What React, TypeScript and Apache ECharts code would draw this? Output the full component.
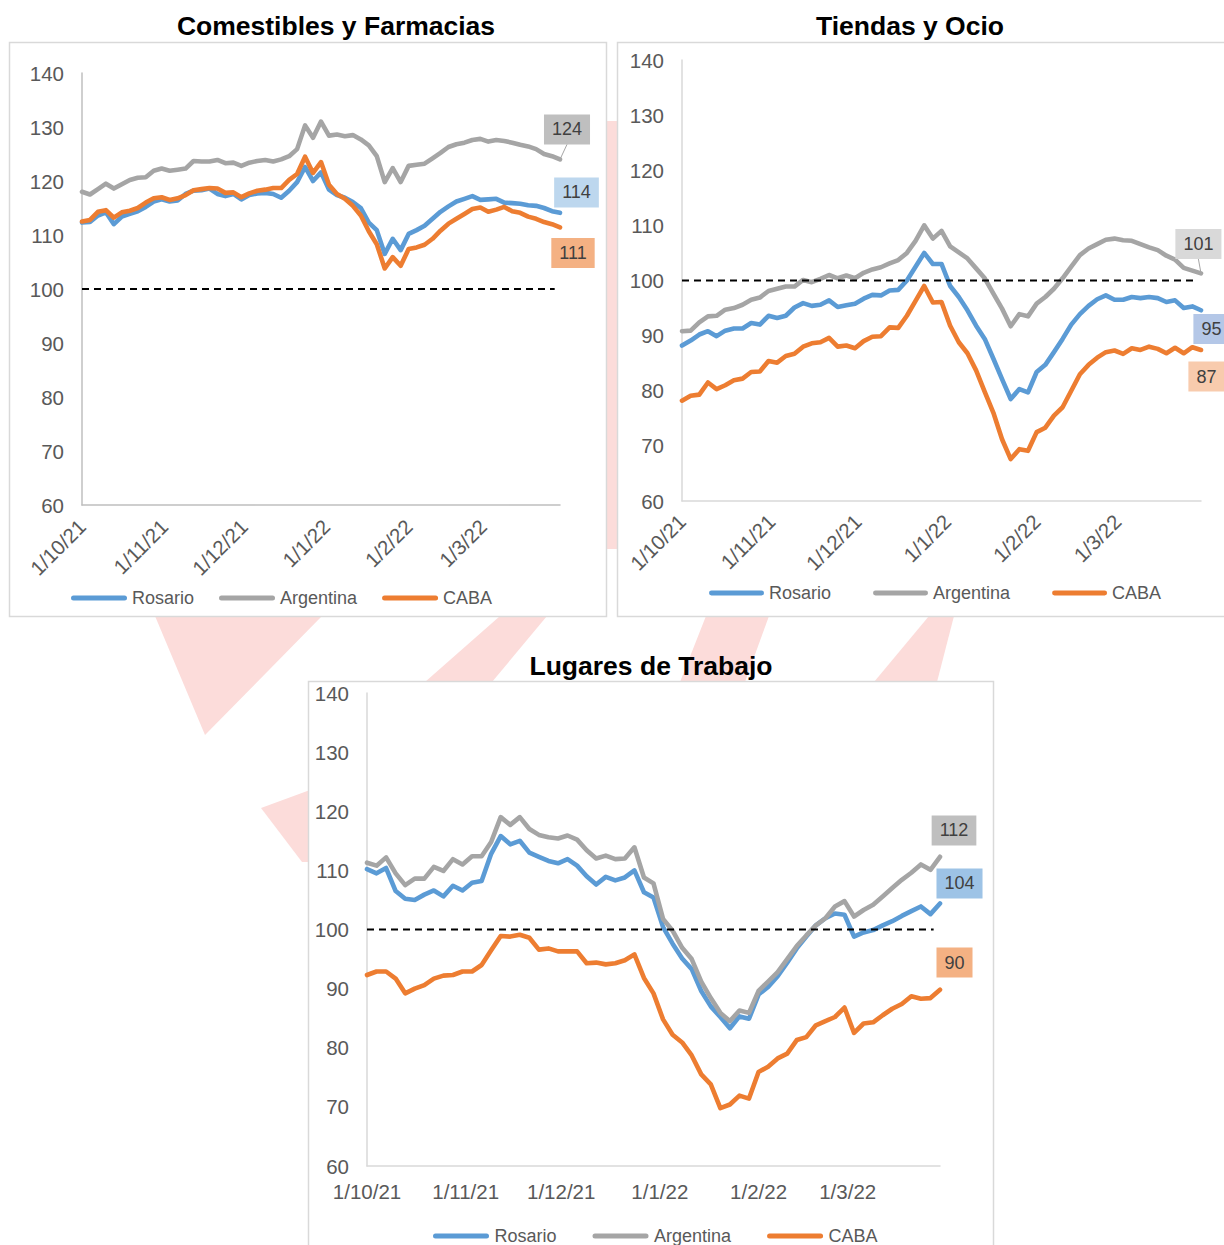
import React, { useEffect, useRef } from 'react';
import * as echarts from 'echarts';

// ---------- data ----------
const STEP = 3; // days between readings, starting 1/10/21
const N_DAYS = 181;
const SERIES_NAMES = ['Rosario', 'Argentina', 'CABA'];
const TICK_LABELS = ['1/10/21', '1/11/21', '1/12/21', '1/1/22', '1/2/22', '1/3/22'];
const Y_TICKS = [60, 70, 80, 90, 100, 110, 120, 130, 140];
const REF_VALUE = 100;
const REF_END_DAY = 178;

// Comestibles y Farmacias
const comRosario = [
  112.3, 112.4, 113.6, 114.2, 112.0, 113.4, 113.9, 114.4, 115.2, 116.2,
  116.6, 116.2, 116.4, 117.6, 118.2, 118.3, 118.6, 117.6, 117.2, 117.6,
  116.6, 117.4, 117.7, 117.8, 117.6, 116.9, 118.2, 119.8, 122.6, 120.0,
  121.6, 118.4, 117.4, 116.9, 116.1, 115.0, 112.3, 110.9, 106.5, 109.3,
  107.2, 110.2, 110.9, 111.7, 113.0, 114.3, 115.3, 116.2, 116.7, 117.2,
  116.5, 116.6, 116.7, 116.0, 115.9, 115.8, 115.5, 115.4, 115.0, 114.4,
  114.1,
];
const comArgentina = [
  118.0, 117.5, 118.5, 119.5, 118.6, 119.4, 120.2, 120.6, 120.7, 121.9,
  122.3, 121.9, 122.1, 122.3, 123.7, 123.6, 123.6, 123.9, 123.3, 123.4,
  122.8, 123.4, 123.7, 123.9, 123.6, 124.0, 124.6, 125.9, 130.3, 128.0,
  131.0, 128.4, 128.6, 128.3, 128.5, 127.7, 126.6, 124.6, 119.8, 122.4,
  119.8, 122.8, 123.0, 123.2, 124.2, 125.2, 126.3, 126.8, 127.1, 127.6,
  127.8, 127.3, 127.6, 127.4, 127.1, 126.7, 126.4, 125.9, 125.0, 124.6,
  124.0,
];
const comCaba = [
  112.5, 112.8, 114.3, 114.6, 113.2, 114.2, 114.5, 115.0, 116.0, 116.8,
  117.0, 116.5, 116.8, 117.4, 118.3, 118.5, 118.7, 118.6, 117.8, 117.9,
  117.0, 117.7, 118.2, 118.4, 118.7, 118.7, 120.2, 121.3, 124.5, 121.5,
  123.5, 119.3, 117.6, 116.7, 115.4, 113.6, 110.7, 108.3, 103.8, 105.9,
  104.3, 107.4, 107.7, 108.2, 109.3, 110.8, 112.1, 113.0, 113.9, 114.8,
  115.1, 114.3, 114.7, 115.2, 114.4, 114.1, 113.4, 113.0, 112.4, 112.0,
  111.4,
];

// Tiendas y Ocio
const tieRosario = [
  88.2, 89.1, 90.2, 90.8, 89.9, 90.9, 91.3, 91.3, 92.3, 92.0,
  93.6, 93.2, 93.6, 95.1, 95.9, 95.4, 95.6, 96.4, 95.2, 95.5,
  95.8, 96.7, 97.4, 97.3, 98.2, 98.3, 100.0, 102.5, 105.0, 103.0,
  103.0, 99.0, 97.0, 94.6, 91.8, 89.4, 85.8, 82.1, 78.5, 80.3,
  79.7, 83.4, 84.7, 87.0, 89.4, 92.0, 93.9, 95.4, 96.6, 97.3,
  96.5, 96.5, 97.0, 96.8, 97.0, 96.8, 96.1, 96.4, 95.0, 95.3,
  94.6,
];
const tieArgentina = [
  90.8, 90.9, 92.4, 93.5, 93.6, 94.7, 95.0, 95.6, 96.5, 96.9,
  98.1, 98.5, 98.9, 98.9, 100.1, 99.7, 100.3, 101.0, 100.4, 100.9,
  100.4, 101.4, 102.0, 102.4, 103.1, 103.7, 105.0, 107.2, 110.0, 107.6,
  109.0, 106.2, 105.1, 104.0, 102.2, 100.4, 97.6, 94.9, 91.7, 93.9,
  93.5, 95.8, 97.0, 98.5, 100.4, 102.5, 104.6, 105.8, 106.6, 107.4,
  107.6, 107.3, 107.2, 106.6, 106.0, 105.5, 104.5, 103.8, 102.3, 101.8,
  101.3,
];
const tieCaba = [
  78.2, 79.1, 79.3, 81.5, 80.3, 81.0, 81.9, 82.2, 83.4, 83.5,
  85.4, 85.1, 86.3, 86.7, 88.0, 88.6, 88.8, 89.6, 88.0, 88.2,
  87.7, 89.0, 89.8, 89.9, 91.5, 91.4, 93.6, 96.3, 99.0, 96.0,
  96.1, 91.8, 88.8, 86.8, 83.7, 79.8, 76.0, 71.2, 67.6, 69.4,
  69.1, 72.5, 73.3, 75.5, 77.0, 80.0, 83.0, 84.7, 86.0, 87.0,
  87.3, 86.7, 87.7, 87.4, 88.0, 87.6, 86.8, 87.8, 86.8, 87.9,
  87.4,
];

// Lugares de Trabajo
const lugRosario = [
  110.2, 109.5, 110.4, 106.5, 105.2, 105.0, 105.9, 106.6, 105.6, 107.4,
  106.6, 107.9, 108.2, 112.8, 115.8, 114.4, 115.0, 113.0, 112.3, 111.6,
  111.2, 111.9, 110.8, 109.0, 107.6, 108.9, 108.3, 108.8, 110.0, 106.3,
  105.4, 100.4, 97.6, 95.1, 93.3, 89.6, 87.0, 85.2, 83.3, 85.3,
  84.9, 89.0, 90.3, 92.1, 94.4, 96.8, 98.8, 100.7, 101.9, 102.7,
  102.5, 98.8, 99.5, 99.9, 100.7, 101.4, 102.3, 103.1, 103.9, 102.6,
  104.4,
];
const lugArgentina = [
  111.3, 110.8, 112.2, 109.5, 107.5, 108.6, 108.6, 110.6, 109.9, 111.9,
  111.0, 112.4, 112.4, 114.8, 119.0, 117.7, 119.0, 117.0, 116.0, 115.6,
  115.4, 115.9, 115.2, 113.4, 112.0, 112.5, 111.9, 112.0, 113.9, 108.8,
  107.8, 101.8, 99.8, 96.9, 95.0, 91.2, 88.4, 85.9, 84.5, 86.3,
  85.9, 89.6, 91.2, 92.8, 95.0, 97.2, 99.0, 100.7, 101.9, 103.9,
  104.8, 102.2, 103.3, 104.2, 105.6, 107.0, 108.4, 109.6, 111.0, 110.1,
  112.3,
];
const lugCaba = [
  92.3, 92.9, 92.9, 91.7, 89.2, 90.0, 90.6, 91.7, 92.2, 92.3,
  92.9, 92.9, 94.0, 96.5, 98.9, 98.8, 99.1, 98.6, 96.6, 96.8,
  96.3, 96.3, 96.3, 94.3, 94.4, 94.1, 94.3, 94.8, 95.8, 91.8,
  89.2, 84.8, 82.2, 80.9, 78.7, 75.5, 73.8, 69.8, 70.4, 71.9,
  71.4, 75.9, 76.8, 78.2, 79.0, 81.3, 81.8, 83.8, 84.5, 85.2,
  86.8, 82.5, 84.1, 84.3, 85.5, 86.6, 87.4, 88.7, 88.3, 88.4,
  89.8,
];

// ---------- styling / layout ----------
const FONT = "'Liberation Sans', Arial, Helvetica, sans-serif";
const COLORS = ['#5B9BD5', '#A5A5A5', '#ED7D31'];
const PINK = '#FCDCDA';
const LEGEND_ICON = 'path://M2.5,0 H53.5 A2.5,2.5 0 0 1 53.5,5 H2.5 A2.5,2.5 0 0 1 2.5,0 Z';

const dayLabels: string[] = Array.from({ length: N_DAYS }, (_, i) => {
  const d = new Date(2021, 9, 1 + i);
  return `${d.getDate()}/${d.getMonth() + 1}/${String(d.getFullYear()).slice(2)}`;
});

const CHARTS = [
  {
    title: 'Comestibles y Farmacias', titleX: 336, titleY: 26,
    box: { x: 9, y: 42, w: 597, h: 574 },
    values: [comRosario, comArgentina, comCaba],
    grid: { left: 82, top: 73, width: 478, height: 432 },
    axisColor: '#BFBFBF', rotate: 45, xMargin: 18,
    legend: { left: 71, top: 589, itemGap: 25, itemWidth: 56 },
    labelOffsets: [[16.5, -20.4], [7, -30], [13, 25.6]],
    labelColors: ['#BDD7EE', '#BFBFBF', '#F4B183'],
    leader: [7, -15],
  },
  {
    title: 'Tiendas y Ocio', titleX: 910, titleY: 26,
    box: { x: 617, y: 42, w: 620, h: 574 },
    values: [tieRosario, tieArgentina, tieCaba],
    grid: { left: 682, top: 60, width: 519, height: 441 },
    axisColor: '#D9D9D9', rotate: 45, xMargin: 17,
    legend: { left: 709, top: 584, itemGap: 42, itemWidth: 55 },
    labelOffsets: [[10.4, 18.7], [-2.6, -29.3], [5.4, 26.6]],
    labelColors: ['#B4C7E7', '#D9D9D9', '#F8CBAD'],
    leader: [-2.6, -14.3],
  },
  {
    title: 'Lugares de Trabajo', titleX: 651, titleY: 666,
    box: { x: 308, y: 681, w: 685, h: 600 },
    values: [lugRosario, lugArgentina, lugCaba],
    grid: { left: 367, top: 693, width: 573, height: 473 },
    axisColor: '#D9D9D9', rotate: 0, xMargin: 15,
    legend: { left: 433, top: 1227, itemGap: 36, itemWidth: 57 },
    labelOffsets: [[19.5, -20], [14, -26.3], [14.5, -27.3]],
    labelColors: ['#9DC3E6', '#BFBFBF', '#F4B183'],
    leader: null as null | number[],
  },
];

const toPairs = (vals: number[]) => vals.map((v, i) => [i * STEP, v]);

function baseGraphic() {
  const g: any[] = [];
  const wm: number[][][] = [
    [[600, 121], [630, 121], [630, 549], [600, 549]],
    [[155, 616], [322, 616], [205, 735]],
    [[500, 616], [547, 616], [492, 682], [425, 682]],
    [[706, 616], [769, 616], [745, 682], [680, 682]],
    [[929, 616], [954, 616], [937, 682], [874, 682]],
    [[261, 808], [310, 790], [310, 862], [302, 862]],
  ];
  wm.forEach((pts, i) =>
    g.push({ id: 'wm' + i, type: 'polygon', z: -3, silent: true, shape: { points: pts }, style: { fill: PINK } })
  );
  CHARTS.forEach((c, i) => {
    g.push({
      id: 'box' + i, type: 'rect', z: -2, silent: true,
      shape: { x: c.box.x + 0.5, y: c.box.y + 0.5, width: c.box.w, height: c.box.h },
      style: { fill: '#FFFFFF', stroke: '#D9D9D9', lineWidth: 1.5 },
    });
    g.push({
      id: 'title' + i, type: 'text', z: 10, silent: true, x: c.titleX, y: c.titleY,
      style: {
        text: c.title, fontSize: 26.5, fontWeight: 'bold', fontFamily: FONT,
        fill: '#000000', align: 'center', verticalAlign: 'middle',
      },
    });
  });
  return g;
}

function buildOption() {
  const grid: any[] = [];
  const xAxis: any[] = [];
  const yAxis: any[] = [];
  const legend: any[] = [];
  const series: any[] = [];

  CHARTS.forEach((c, gi) => {
    grid.push({ ...c.grid, containLabel: false, outerBoundsMode: 'none' });
    xAxis.push({
      type: 'category', gridIndex: gi, data: dayLabels, boundaryGap: false,
      axisLine: { show: true, lineStyle: { color: c.axisColor, width: 1.5 } },
      axisTick: { show: false },
      splitLine: { show: false },
      axisLabel: {
        interval: (_idx: number, val: string) => TICK_LABELS.includes(val),
        rotate: c.rotate, margin: c.xMargin, color: '#595959', fontSize: 20.5, fontFamily: FONT,
      },
    });
    yAxis.push({
      type: 'value', gridIndex: gi, min: Y_TICKS[0], max: Y_TICKS[Y_TICKS.length - 1], interval: 10,
      axisLine: { show: true, lineStyle: { color: c.axisColor, width: 1.5 } },
      axisTick: { show: false },
      splitLine: { show: false },
      axisLabel: { color: '#595959', fontSize: 20.5, margin: 18, fontFamily: FONT },
    });
    legend.push({
      data: SERIES_NAMES, left: c.legend.left, top: c.legend.top, itemGap: c.legend.itemGap,
      itemWidth: c.legend.itemWidth, itemHeight: 5, icon: LEGEND_ICON, padding: 0, selectedMode: false,
      textStyle: { color: '#595959', fontSize: 18, fontFamily: FONT },
    });
    c.values.forEach((vals, si) => {
      const last = vals.length - 1;
      series.push({
        type: 'line', name: SERIES_NAMES[si], xAxisIndex: gi, yAxisIndex: gi,
        data: toPairs(vals), showSymbol: false, symbol: 'none', silent: true,
        lineStyle: { color: COLORS[si], width: 4.6, cap: 'round', join: 'round' },
        itemStyle: { color: COLORS[si] },
        z: 2 + si,
        markPoint: {
          symbol: 'rect', symbolSize: 1, silent: true,
          itemStyle: { color: 'rgba(0,0,0,0)' },
          label: {
            show: true, position: 'inside', offset: c.labelOffsets[si],
            formatter: (p: any) => String(Math.round(p.value)),
            backgroundColor: c.labelColors[si], padding: [6, 8],
            color: '#404040', fontSize: 18, fontFamily: FONT,
          },
          data: [{ coord: [last * STEP, vals[last]], value: vals[last] }],
        },
      });
    });
    series.push({
      type: 'line', name: 'ref' + gi, xAxisIndex: gi, yAxisIndex: gi,
      data: [[0, REF_VALUE], [REF_END_DAY, REF_VALUE]], showSymbol: false, symbol: 'none', silent: true,
      lineStyle: { color: '#000000', width: 1.8, type: [7, 5] }, z: 6,
    });
  });

  return {
    animation: false,
    backgroundColor: '#FFFFFF',
    grid, xAxis, yAxis, legend, series,
    graphic: baseGraphic(),
  };
}

export default function App() {
  const ref = useRef<HTMLDivElement>(null);
  useEffect(() => {
    if (!ref.current) return;
    const chart = echarts.init(ref.current, null, { renderer: 'svg' });
    chart.setOption(buildOption());
    const extra: any[] = [];
    CHARTS.forEach((c, gi) => {
      if (!c.leader) return;
      const vals = c.values[1];
      const last = vals.length - 1;
      const p = chart.convertToPixel({ gridIndex: gi } as any, [last * STEP, vals[last]]) as any;
      if (!p) return;
      extra.push({
        id: 'leader' + gi, type: 'line', z: 8, silent: true,
        shape: { x1: p[0], y1: p[1], x2: p[0] + c.leader[0], y2: p[1] + c.leader[1] },
        style: { stroke: '#A5A5A5', lineWidth: 1 },
      });
    });
    chart.setOption({ graphic: [...baseGraphic(), ...extra] });
    return () => chart.dispose();
  }, []);
  return (
    <div
      ref={ref}
      style={{ position: 'absolute', left: 0, top: 0, width: 1224, height: 1245, background: '#fff' }}
    />
  );
}
